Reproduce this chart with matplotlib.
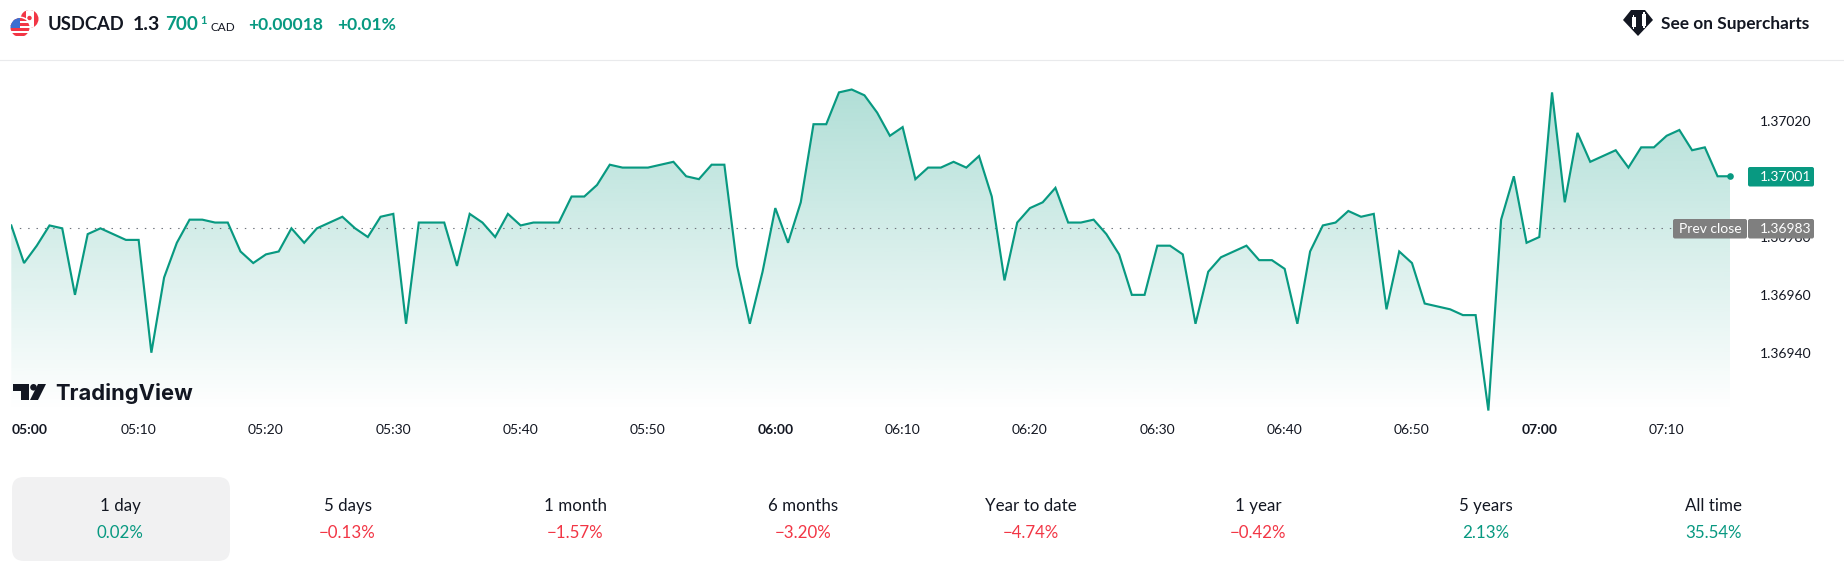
import numpy as np
import matplotlib
matplotlib.use("Agg")
import matplotlib.pyplot as plt
from matplotlib.patches import Circle, FancyBboxPatch, Polygon, Rectangle

# 1-minute closes (05:00 to 07:15)
closes = [
    1.36984, 1.36971, 1.36977, 1.36984, 1.36983, 1.36960, 1.36981, 1.36983, 1.36981, 1.36979,
    1.36979, 1.36940, 1.36966, 1.36978, 1.36986, 1.36986, 1.36985, 1.36985, 1.36975, 1.36971,
    1.36974, 1.36975, 1.36983, 1.36978, 1.36983, 1.36985, 1.36987, 1.36983, 1.36980, 1.36987,
    1.36988, 1.36950, 1.36985, 1.36985, 1.36985, 1.36970, 1.36988, 1.36985, 1.36980, 1.36988,
    1.36984, 1.36985, 1.36985, 1.36985, 1.36994, 1.36994, 1.36998, 1.37005, 1.37004, 1.37004,
    1.37004, 1.37005, 1.37006, 1.37001, 1.37000, 1.37005, 1.37005, 1.36970, 1.36950, 1.36968,
    1.36990, 1.36978, 1.36992, 1.37019, 1.37019, 1.37030, 1.37031, 1.37029, 1.37023, 1.37015,
    1.37018, 1.37000, 1.37004, 1.37004, 1.37006, 1.37004, 1.37008, 1.36994, 1.36965, 1.36985,
    1.36990, 1.36992, 1.36997, 1.36985, 1.36985, 1.36986, 1.36981, 1.36974, 1.36960, 1.36960,
    1.36977, 1.36977, 1.36974, 1.36950, 1.36968, 1.36973, 1.36975, 1.36977, 1.36972, 1.36972,
    1.36969, 1.36950, 1.36975, 1.36984, 1.36985, 1.36989, 1.36987, 1.36988, 1.36955, 1.36975,
    1.36971, 1.36957, 1.36956, 1.36955, 1.36953, 1.36953, 1.36920, 1.36986, 1.37001, 1.36978,
    1.36980, 1.37030, 1.36992, 1.37016, 1.37006, 1.37008, 1.37010, 1.37004, 1.37011, 1.37011,
    1.37015, 1.37017, 1.37010, 1.37011, 1.37001, 1.37001,
]
prev_close = 1.36983

time_ticks = [0, 10, 20, 30, 40, 50, 60, 70, 80, 90, 100, 110, 120, 130]
time_labels = ["05:00", "05:10", "05:20", "05:30", "05:40", "05:50", "06:00",
               "06:10", "06:20", "06:30", "06:40", "06:50", "07:00", "07:10"]
bold_labels = ["05:00", "06:00", "07:00"]
price_ticks = [1.36940, 1.36960, 1.36980, 1.37020]

periods = ["1 day", "5 days", "1 month", "6 months", "Year to date", "1 year", "5 years", "All time"]
changes = ["0.02%", "\u22120.13%", "\u22121.57%", "\u22123.20%", "\u22124.74%", "\u22120.42%", "2.13%", "35.54%"]

GREEN = "#089981"
RED = "#f23645"
INK = "#131722"
W, H = 1844, 568

plt.rcParams["font.family"] = "Lato"

fig = plt.figure(figsize=(W / 100, H / 100), dpi=100, facecolor="white")

# ----------- price chart --------------
ax = fig.add_axes([11.3 / W, (H - 412) / H, 1719 / W, 352 / H])
ax.set_xlim(0, len(closes) - 1)
ax.set_ylim(1.369195, 1.370412)
for side in ax.spines.values():
    side.set_visible(False)

x = np.arange(len(closes))
base = ax.get_ylim()[0]
area = ax.fill_between(x, closes, base, color="none", linewidth=0)

# vertical gradient, clipped to the area under the line
rgba = np.zeros((256, 1, 4))
rgba[..., :3] = matplotlib.colors.to_rgb(GREEN)
rgba[..., 3] = np.linspace(0.32, 0.0, 256)[:, None]
grad = ax.imshow(rgba, extent=[0, len(closes) - 1, base, 1.37032], aspect="auto",
                 origin="upper", zorder=1)
ax.set_xlim(0, len(closes) - 1)
ax.set_ylim(base, 1.370412)
grad.set_clip_path(area.get_paths()[0], ax.transData)

ax.axhline(prev_close, xmin=0, xmax=(1673 - 11.3) / 1719, color="#6f737c", lw=0.8,
           linestyle=(0, (1.3, 6.2)), zorder=2)
ax.plot(x, closes, color=GREEN, lw=1.55, solid_joinstyle="miter", zorder=3)
ax.plot(x[-1], closes[-1], "o", color=GREEN, ms=4.8, mew=0, clip_on=False, zorder=4)

ax.yaxis.tick_right()
ax.set_yticks(price_ticks, [f"{p:.5f}" for p in price_ticks])
ax.tick_params(axis="y", length=0, pad=21, labelsize=10, labelcolor=INK)
ax.set_xticks(time_ticks, time_labels)
ax.tick_params(axis="x", length=0, pad=9, labelsize=10, labelcolor=INK)
for lab in ax.get_xticklabels():
    if lab.get_text() in bold_labels:
        lab.set_fontweight("bold")
    if lab.get_text() == time_labels[0]:
        lab.set_ha("left")

# ----------- page furniture, in pixel coordinates --------------
ui = fig.add_axes([0, 0, 1, 1], zorder=5)
ui.set_xlim(0, W)
ui.set_ylim(H, 0)
ui.axis("off")
ui.patch.set_alpha(0)

ui.axhline(59.5, color="#e9eaec", lw=0.8)


def label(px, py, s, size, color=INK, weight="normal", ha="left"):
    return ui.text(px, py, s, fontsize=size, color=color, fontweight=weight, ha=ha, va="center")


# flag icon
ca = Circle((29.5, 19), 9, color=RED, lw=0)
ui.add_patch(ca)
ca_band = Rectangle((25.5, 9), 8, 20, color="white", lw=0)
ui.add_patch(ca_band)
ca_band.set_clip_path(ca)
ui.add_patch(Circle((29.5, 18), 2.2, color=RED, lw=0))
ui.add_patch(Circle((20, 27.5), 11, color="white", lw=0))
us = Circle((20, 27.5), 9.5, color="white", lw=0)
ui.add_patch(us)
for top in [18, 23, 28, 33]:
    stripe = Rectangle((10, top), 20, 2.5, color=RED, lw=0)
    ui.add_patch(stripe)
    stripe.set_clip_path(us)
canton = Rectangle((10, 18), 10, 9.5, color="#3c6fd1", lw=0)
ui.add_patch(canton)
canton.set_clip_path(us)

# header
label(48, 25, "USDCAD", 13.2, weight="bold")
label(133, 25, "1.3", 14, weight="bold")
label(165, 25, "700", 13.6, GREEN, weight="bold")
label(200, 21, "1", 8, GREEN, weight="bold")
label(210, 27.5, "CAD", 8.5)
label(248, 25, "+0.00018", 12.6, GREEN, weight="bold")
label(337, 25, "+0.01%", 12.6, GREEN, weight="bold")

# supercharts button
ui.add_patch(Polygon([(1623, 20), (1631, 10), (1645, 10), (1653, 20), (1638, 36)], color=INK, lw=0))
for cx, top, bottom in [(1633.5, 17, 27), (1644, 14, 26)]:
    ui.add_patch(Rectangle((cx - 0.7, top - 2), 1.4, bottom - top + 4, color="white", lw=0))
    ui.add_patch(Rectangle((cx - 2, top), 4, bottom - top, color="white", lw=0))
label(1661, 24.5, "See on Supercharts", 12.4, weight="bold")

# price tags
ui.add_patch(FancyBboxPatch((1749, 168), 64, 17.5, boxstyle="round,pad=1,rounding_size=2",
                            color=GREEN, lw=0))
label(1760, 177, f"{closes[-1]:.5f}", 10, "white")
ui.add_patch(FancyBboxPatch((1674, 220), 72, 17.5, boxstyle="round,pad=1,rounding_size=2",
                            color="#7f7f7f", lw=0))
ui.add_patch(FancyBboxPatch((1749, 220), 64, 17.5, boxstyle="round,pad=1,rounding_size=2",
                            color="#7f7f7f", lw=0))
label(1679, 229, "Prev close", 10, "white")
label(1760, 229, f"{prev_close:.5f}", 10, "white")

# TradingView mark
ui.add_patch(Polygon([(13, 384), (29, 384), (29, 400), (21, 400), (21, 390.5), (13, 390.5)],
                     color=INK, lw=0))
ui.add_patch(Circle((33.5, 387.3), 3.3, color=INK, lw=0))
ui.add_patch(Polygon([(38, 384), (46, 384), (38, 400), (30, 400)], color=INK, lw=0))
ui.text(55, 393, "TradingView", fontsize=15.8, color=INK, fontweight="bold",
        family="Inter", va="center")

# performance tabs
ui.add_patch(FancyBboxPatch((22, 487), 198, 64, boxstyle="round,pad=10,rounding_size=12",
                            color="#f1f1f2", lw=0))
centers = [120 + 227.6 * i for i in range(len(periods))]
for cx, period, change in zip(centers, periods, changes):
    col = RED if change.startswith("\u2212") else GREEN
    label(cx, 506, period, 12.2, ha="center")
    label(cx, 533, change, 12.2, col, ha="center")

fig.savefig("out.png", dpi=100)
